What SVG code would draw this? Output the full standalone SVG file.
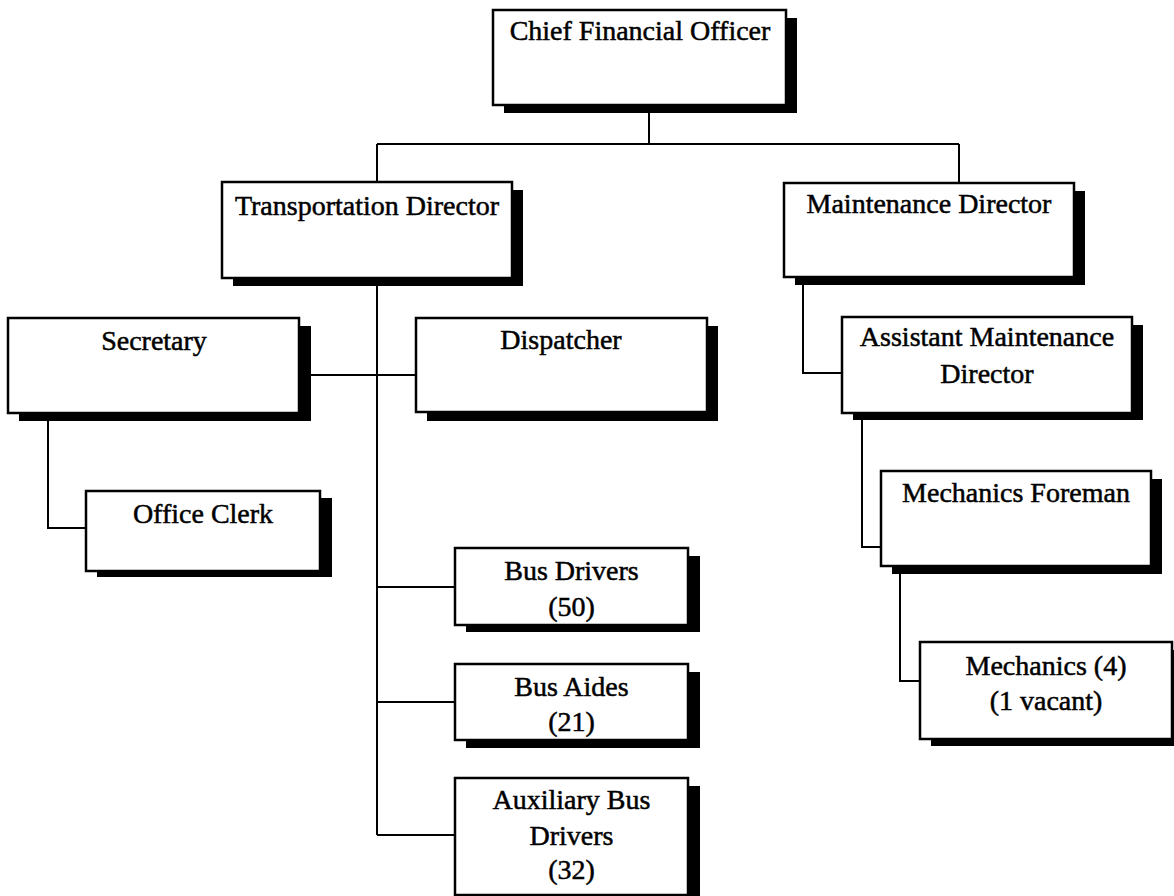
<svg xmlns="http://www.w3.org/2000/svg" width="1174" height="896" viewBox="0 0 1174 896">
<style>
.box{fill:#fff;stroke:#000;stroke-width:2.5}
.sh{fill:#000}
.lbl{font-family:"Liberation Serif","Times New Roman",serif;font-size:28px;fill:#000;stroke:#000;stroke-width:0.5;text-anchor:middle}
.conn{fill:none;stroke:#000;stroke-width:2}
</style>
<rect width="1174" height="896" fill="#fff"/>
<g id="connectors" class="conn">
<path d="M649,105 V144 M377,144 H959 M377,144 V182 M959,144 V183"/>
<path d="M377,278 V835 M299,375 H416"/>
<path d="M48,413 V528 H86"/>
<path d="M377,587 H455 M377,702 H455 M377,835 H455"/>
<path d="M803,277 V373 H843"/>
<path d="M862,413 V547 H881"/>
<path d="M900,566 V681 H920"/>
</g>
<g id="cfo">
<rect class="sh" x="504" y="18" width="293" height="95"/>
<rect class="box" x="493" y="10" width="293" height="95"/>
<text class="lbl" x="640" y="40">Chief Financial Officer</text>
</g>
<g id="transportation-director">
<rect class="sh" x="233" y="190" width="290" height="96"/>
<rect class="box" x="222" y="182" width="290" height="96"/>
<text class="lbl" x="367" y="215">Transportation Director</text>
</g>
<g id="maintenance-director">
<rect class="sh" x="795" y="191" width="290" height="94"/>
<rect class="box" x="784" y="183" width="290" height="94"/>
<text class="lbl" x="929" y="213">Maintenance Director</text>
</g>
<g id="secretary">
<rect class="sh" x="19" y="326" width="292" height="95"/>
<rect class="box" x="8" y="318" width="291" height="95"/>
<text class="lbl" x="154" y="350">Secretary</text>
</g>
<g id="dispatcher">
<rect class="sh" x="427" y="326" width="291" height="95"/>
<rect class="box" x="416" y="318" width="291" height="94"/>
<text class="lbl" x="561" y="349">Dispatcher</text>
</g>
<g id="assistant-maintenance-director">
<rect class="sh" x="853" y="325" width="290" height="95"/>
<rect class="box" x="842" y="317" width="290" height="96"/>
<text class="lbl" x="987" y="346">Assistant Maintenance</text>
<text class="lbl" x="987" y="383">Director</text>
</g>
<g id="office-clerk">
<rect class="sh" x="97" y="498" width="235" height="79"/>
<rect class="box" x="86" y="491" width="234" height="80"/>
<text class="lbl" x="203" y="523">Office Clerk</text>
</g>
<g id="mechanics-foreman">
<rect class="sh" x="892" y="479" width="270" height="95"/>
<rect class="box" x="881" y="471" width="270" height="95"/>
<text class="lbl" x="1016" y="502">Mechanics Foreman</text>
</g>
<g id="mechanics">
<rect class="sh" x="931" y="650" width="252" height="96"/>
<rect class="box" x="920" y="642" width="252" height="97"/>
<text class="lbl" x="1046" y="675">Mechanics (4)</text>
<text class="lbl" x="1046" y="710">(1 vacant)</text>
</g>
<g id="bus-drivers">
<rect class="sh" x="466" y="556" width="234" height="76"/>
<rect class="box" x="455" y="548" width="233" height="77"/>
<text class="lbl" x="571.5" y="580">Bus Drivers</text>
<text class="lbl" x="571.5" y="616">(50)</text>
</g>
<g id="bus-aides">
<rect class="sh" x="466" y="672" width="234" height="76"/>
<rect class="box" x="455" y="664" width="233" height="76"/>
<text class="lbl" x="571.5" y="696">Bus Aides</text>
<text class="lbl" x="571.5" y="731">(21)</text>
</g>
<g id="auxiliary-bus-drivers">
<rect class="sh" x="466" y="786" width="234" height="120"/>
<rect class="box" x="455" y="778" width="233" height="117"/>
<text class="lbl" x="571.5" y="809">Auxiliary Bus</text>
<text class="lbl" x="571.5" y="845">Drivers</text>
<text class="lbl" x="571.5" y="879">(32)</text>
</g>
</svg>
